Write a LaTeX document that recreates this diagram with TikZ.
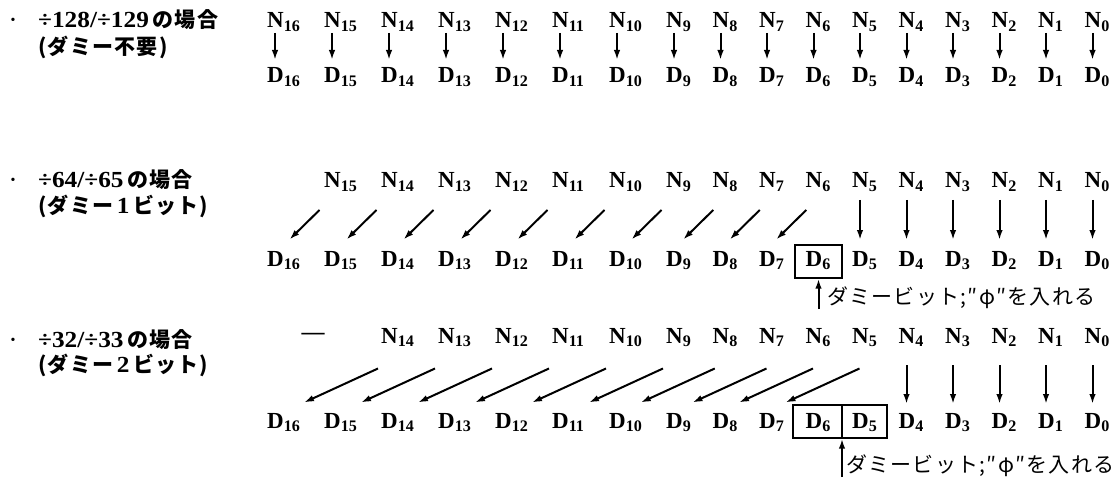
\documentclass[tikz,border=0pt]{standalone}
\usepackage{fontspec}
\setmainfont{Liberation Serif}
\newfontfamily\jpfont[LetterSpace=6]{Noto Sans CJK JP}
\newfontfamily\rotfont[FakeStretch=1.1]{Liberation Serif}
\usetikzlibrary{arrows.meta,calc}
\newcommand{\jptxt}{\fontsize{21}{21}\selectfont\jpfont\bfseries}
\newcommand{\numtxt}{\fontsize{23}{23}\selectfont\rotfont\bfseries}
\tikzset{
  bit/.style={font=\fontsize{23}{23}\selectfont\bfseries,inner sep=0pt,anchor=base west},
  rotulo/.style={anchor=west,inner sep=0pt},
  nota/.style={font=\fontsize{21}{21}\selectfont\jpfont,anchor=west,inner sep=0pt},
  recta/.style={-{Latex[length=10pt,width=6.5pt]},line width=2pt},
  caja/.style={draw,line width=1.4pt,inner sep=0pt},
}

\begin{document}
\begin{tikzpicture}[x=1pt,y=-1pt]
  \useasboundingbox (0,0) rectangle (1116,481);

  % Rótulos de cada caso.
  \node[font=\fontsize{14}{14}\selectfont] (p1) at (13,21) {\textbullet};
  \node[rotulo] (r1) at (38,20) {\numtxt ÷128/÷129\,{\jptxt の場合}};
  \node[rotulo] (s1) at (38,47) {\jptxt (ダミー不要)};
  \node[font=\fontsize{14}{14}\selectfont] (p2) at (13,181) {\textbullet};
  \node[rotulo] (r2) at (38,180) {\numtxt ÷64/÷65\,{\jptxt の場合}};
  \node[rotulo] (s2) at (38,206) {\jptxt (ダミー\,{\numtxt 1}\,ビット)};
  \node[font=\fontsize{14}{14}\selectfont] (p3) at (13,341) {\textbullet};
  \node[rotulo] (r3) at (38,340) {\numtxt ÷32/÷33\,{\jptxt の場合}};
  \node[rotulo] (s3) at (38,365) {\jptxt (ダミー\,{\numtxt 2}\,ビット)};

  % Caso 1: sin bit ficticio.
  \foreach \k in {16,15,...,0}{
    \pgfmathsetmacro{\xx}{\k>8 ? 267+57*(16-\k) : 666+46.5*(9-\k)}
    \node[bit] (n1-\k) at (\xx,28) {N\textsubscript{\k}};
    \node[bit] (d1-\k) at (\xx,83) {D\textsubscript{\k}};
    \draw[recta] ($(n1-\k.base west)+(8,5)$) -- ($(d1-\k.base west)+(8,-23)$);
  }

  % Caso 2: un bit ficticio en D6.
  \foreach \k in {15,14,...,0}{
    \pgfmathsetmacro{\xx}{\k>8 ? 267+57*(16-\k) : 666+46.5*(9-\k)}
    \node[bit] (n2-\k) at (\xx,188) {N\textsubscript{\k}};
  }
  \foreach \k in {16,15,...,0}{
    \pgfmathsetmacro{\xx}{\k>8 ? 267+57*(16-\k) : 666+46.5*(9-\k)}
    \node[bit] (d2-\k) at (\xx,266) {D\textsubscript{\k}};
  }
  \foreach \k [evaluate=\k as \j using int(\k+1)] in {15,14,...,6}
    \draw[recta] ($(n2-\k.base west)!.5!(d2-\j.base west)+(24,-17)$)
      -- ($(n2-\k.base west)!.5!(d2-\j.base west)+(-6,12.5)$);
  \foreach \k in {5,4,...,0}
    \draw[recta] ($(n2-\k.base west)+(8,12)$) -- ($(d2-\k.base west)+(8,-26)$);
  \node[caja,minimum width=47pt,minimum height=33pt] (c2) at ($(d2-6.base west)+(13,-4.5)$) {};
  \node[nota] (t2) at (827,298) {ダミービット;″φ″を入れる};
  \draw[recta] (c2.south |- t2.south) -- (c2.south);

  % Caso 3: dos bits ficticios en D6 y D5.
  \node[bit,anchor=center] (g3) at (313,336) {—};
  \foreach \k in {14,13,...,0}{
    \pgfmathsetmacro{\xx}{\k>8 ? 267+57*(16-\k) : 666+46.5*(9-\k)}
    \node[bit] (n3-\k) at (\xx,343) {N\textsubscript{\k}};
  }
  \foreach \k in {16,15,...,0}{
    \pgfmathsetmacro{\xx}{\k>8 ? 267+57*(16-\k) : 666+46.5*(9-\k)}
    \node[bit] (d3-\k) at (\xx,428) {D\textsubscript{\k}};
  }
  \foreach \k [evaluate=\k as \j using int(\k+2)] in {14,13,...,5}
    \draw[recta] ($(n3-\k.base west)!.5!(d3-\j.base west)+(54,-17)$)
      -- ($(n3-\k.base west)!.5!(d3-\j.base west)+(-20,17)$);
  \foreach \k in {4,3,...,0}
    \draw[recta] ($(n3-\k.base west)+(8,22)$) -- ($(d3-\k.base west)+(8,-24)$);
  \node[caja,minimum width=94pt,minimum height=33pt] (c3) at ($(d3-6.base west)+(34.5,-6.5)$) {};
  \coordinate (m3) at ($(c3.south)+(2,0)$);
  \draw[line width=1.4pt] ($(c3.north)+(2,0)$) -- (m3);
  \node[nota] (t3) at (846,466) {ダミービット;″φ″を入れる};
  \draw[recta] (m3 |- t3.south) -- (m3);
\end{tikzpicture}
\end{document}
